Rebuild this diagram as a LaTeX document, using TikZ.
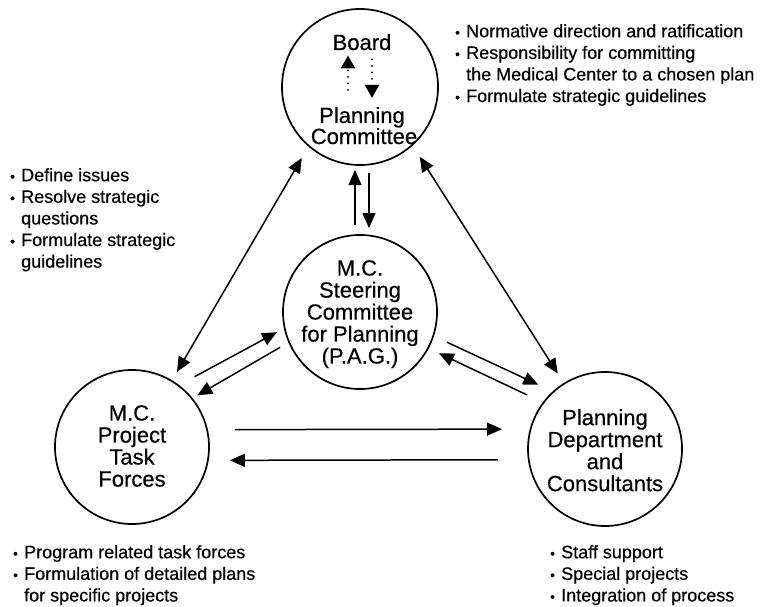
\documentclass[tikz,border=0pt]{standalone}
\usepackage{fontspec}
\usepackage{graphicx}
\setmainfont{Liberation Sans}[FakeBold=0.5]
\usetikzlibrary{arrows.meta}

\newcommand\circfont{\fontsize{22}{22}\selectfont}
\newcommand\notefont{\fontsize{18}{21.6}\selectfont}
\newcommand\bul{\makebox[11pt][l]{\scalebox{0.75}{\textbullet}}}
\newcommand\cont{\hspace*{11pt}}

\begin{document}
\begin{tikzpicture}[x=1pt,y=-1pt,
  circ/.style={draw, circle, line width=1.7pt, inner sep=0pt, outer sep=0pt},
  ctext/.style={inner sep=0pt, align=center, font=\circfont},
  note/.style={inner sep=0pt, align=left, font=\notefont, anchor=north west},
  one/.style={line width=1.5pt, -{Triangle[length=15pt,width=13pt]}},
  both/.style={line width=1.5pt, {Triangle[length=15pt,width=13pt]}-{Triangle[length=15pt,width=13pt]}},
  dotarrow/.style={line width=2pt, line cap=round, dash pattern=on 0.01pt off 6.5pt,
                   -{Triangle[length=13pt,width=14pt]}}]
\useasboundingbox (0,0) rectangle (768,607);

% the four bodies
\node[circ, minimum size=156pt] (bd) at (360,87) {};
\node[circ, minimum size=154pt] (sc) at (360,312) {};
\node[circ, minimum size=154pt] (tf) at (132,447) {};
\node[circ, minimum size=154pt] (pd) at (605,449) {};

% their names
\node[ctext, anchor=base] (board) at (362,50) {Board};
\node[ctext, anchor=base] (plan) at (362,123) {Planning};
\node[ctext, anchor=base] (comm) at (364,144) {Committee};
\node[ctext, anchor=north] (sctext) at (360,260) {M.C.\\Steering\\Committee\\for Planning\\(P.A.G.)};
\node[ctext, anchor=north] (tftext) at (132,405) {M.C.\\Project\\Task\\Forces};
\node[ctext, anchor=north] (pdtext) at (605,409) {Planning\\Department\\and\\Consultants};

% exchange inside the board circle
\draw[dotarrow, shorten <=17pt, shorten >=5pt] ([xshift=-14pt]plan.north) -- ([xshift=-14pt]board.south);
\draw[dotarrow, shorten <=9pt, shorten >=9pt] ([xshift=10pt]board.south) -- ([xshift=10pt]plan.north);

% links between the bodies
\draw[both, shorten <=14pt, shorten >=10.5pt] (bd.229) -- (tf.59);
\draw[both, shorten <=14pt, shorten >=12pt] (bd.312) -- (pd.122);
\draw[one, shorten <=10pt, shorten >=5pt] ([xshift=-5pt]sc.north) -- ([xshift=-5pt]bd.south);
\draw[one, shorten <=8pt, shorten >=7pt] ([xshift=9pt]bd.south) -- ([xshift=9pt]sc.north);
\draw[one, shorten <=18.4pt, shorten >=8.7pt] (tf.53) -- (sc.192);
\draw[one, shorten <=10.4pt, shorten >=6.3pt] (sc.203) -- (tf.39);
\draw[one, shorten <=15pt, shorten >=16.7pt] (sc.342) -- (pd.132);
\draw[one, shorten <=18pt, shorten >=12pt] (pd.143) -- (sc.332);
\draw[one, shorten <=28pt, shorten >=28.6pt] (tf.13) -- (pd.165);
\draw[one, shorten <=30.8pt, shorten >=22pt] (pd.188) -- (tf.350);

% notes
\node[note] (n1) at (455,24) {\bul Normative direction and ratification\\
  \bul Responsibility for committing\\
  \cont the Medical Center to a chosen plan\\
  \bul Formulate strategic guidelines};
\node[note] (n2) at (10,168) {\bul Define issues\\
  \bul Resolve strategic\\
  \cont questions\\
  \bul Formulate strategic\\
  \cont guidelines};
\node[note] (n3) at (13,545) {\bul Program related task forces\\
  \bul Formulation of detailed plans\\
  \cont for specific projects};
\node[note] (n4) at (550,545) {\bul Staff support\\
  \bul Special projects\\
  \bul Integration of process};
\end{tikzpicture}
\end{document}
